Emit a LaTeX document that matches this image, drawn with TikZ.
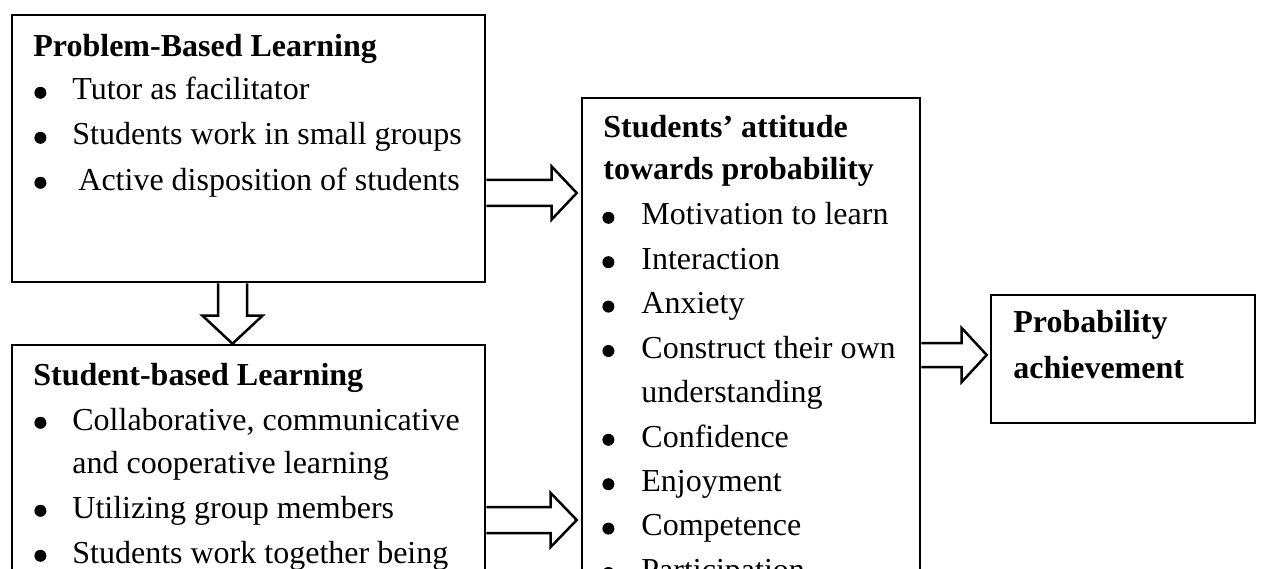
\documentclass[tikz,border=0pt]{standalone}
\usepackage{fontspec}
\setmainfont{Liberation Serif}
\usetikzlibrary{calc,fit}

% round bullet hung to the left of an item's text
\newcommand\bul[1][13.0bp]{\llap{\raisebox{0.6bp}{\tikz\fill (0,0) circle (3.0bp);}\hspace{#1}}}

\tikzset{
  box/.style={draw, line width=1.3bp, inner sep=0pt},
  txt/.style={anchor=base west, inner sep=0pt, font=\fontsize{16bp}{20bp}\selectfont},
  ttl/.style={anchor=base west, inner sep=0pt, font=\fontsize{16bp}{20bp}\selectfont\bfseries},
  blockarrow/.style={draw, line width=1.25bp, line join=miter, fill=white},
}

\begin{document}
\begin{tikzpicture}[x=0.5bp, y=-0.5bp]
  \useasboundingbox (0,0) rectangle (1262,569);
  \fill[white] (0,0) rectangle (1262,569);
  \clip (0,0) rectangle (1262,569);

  % boxes
  \node[box, fit={(12,15) (485,282)}] (pbl) {};
  \node[box, fit={(12,345) (485,620)}] (sbl) {};
  \node[box, fit={(582,98) (920,620)}] (att) {};
  \node[box, fit={(991,295) (1255,423)}] (ach) {};

  % Problem-Based Learning
  \node[ttl] (pbl-t) at (33,57) {Problem-Based Learning};
  \node[txt] (pbl-1) at (72,100) {\bul Tutor as facilitator};
  \node[txt] (pbl-2) at (72,145) {\bul Students work in small groups};
  \node[txt] (pbl-3) at (78,190) {\bul[16.0bp]Active disposition of students};

  % Student-based Learning
  \node[ttl] (sbl-t) at (33,385) {Student-based Learning};
  \node[txt] (sbl-1) at (72,430) {\bul Collaborative, communicative};
  \node[txt] (sbl-1b) at (72,473) {and cooperative learning};
  \node[txt] (sbl-2) at (72,518) {\bul Utilizing group members};
  \node[txt] (sbl-3) at (72,563) {\bul Students work together being};

  % Students' attitude
  \node[ttl] (att-t1) at (603,138) {Students’ attitude};
  \node[ttl] (att-t2) at (603,180) {towards probability};
  \node[txt] (att-1) at (641,225) {\bul[13.5bp]Motivation to learn};
  \node[txt] (att-2) at (641,269.4) {\bul[13.5bp]Interaction};
  \node[txt] (att-3) at (641,313.8) {\bul[13.5bp]Anxiety};
  \node[txt] (att-4) at (641,358.2) {\bul[13.5bp]Construct their own};
  \node[txt] (att-4b) at (641,402.6) {understanding};
  \node[txt] (att-5) at (641,447) {\bul[13.5bp]Confidence};
  \node[txt] (att-6) at (641,491.4) {\bul[13.5bp]Enjoyment};
  \node[txt] (att-7) at (641,535.8) {\bul[13.5bp]Competence};
  \node[txt] (att-8) at (641,580.2) {\bul[13.5bp]Participation};

  % Probability achievement
  \node[ttl] (ach-t1) at (1013,332) {Probability};
  \node[ttl] (ach-t2) at (1013,378) {achievement};

  % block arrows: tail on one box, tip on the next
  \coordinate (a1s) at (pbl.east |- 0,193);
  \coordinate (a1e) at (att.west |- 0,193);
  \draw[blockarrow] ($(a1s)+(0,-13)$) -- ($(a1e)+(-29,-13)$) -- ($(a1e)+(-29,-26.5)$)
    -- ($(a1e)+(-4,0)$) -- ($(a1e)+(-29,26.5)$) -- ($(a1e)+(-29,13)$) -- ($(a1s)+(0,13)$);

  \coordinate (a2s) at (sbl.east |- 0,520);
  \coordinate (a2e) at (att.west |- 0,520);
  \draw[blockarrow] ($(a2s)+(0,-13)$) -- ($(a2e)+(-30,-13)$) -- ($(a2e)+(-30,-27)$)
    -- ($(a2e)+(-4,0)$) -- ($(a2e)+(-30,27)$) -- ($(a2e)+(-30,13)$) -- ($(a2s)+(0,13)$);

  \coordinate (a3s) at (pbl.south -| 232.5,0);
  \coordinate (a3e) at (sbl.north -| 232.5,0);
  \draw[blockarrow] ($(a3s)+(-14.5,0)$) -- ($(a3e)+(-14.5,-28)$) -- ($(a3e)+(-30,-28)$)
    -- (a3e) -- ($(a3e)+(30,-28)$) -- ($(a3e)+(14.5,-28)$) -- ($(a3s)+(14.5,0)$);

  \coordinate (a4s) at (att.east |- 0,355);
  \coordinate (a4e) at (ach.west |- 0,355);
  \draw[blockarrow] ($(a4s)+(0,-12)$) -- ($(a4e)+(-28,-12)$) -- ($(a4e)+(-28,-27)$)
    -- ($(a4e)+(-3,0)$) -- ($(a4e)+(-28,27)$) -- ($(a4e)+(-28,12)$) -- ($(a4s)+(0,12)$);
\end{tikzpicture}
\end{document}
